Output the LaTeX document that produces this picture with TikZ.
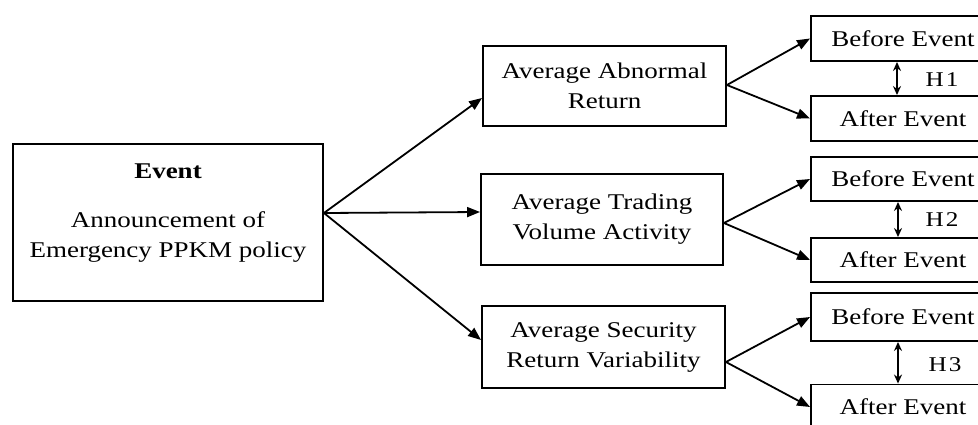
\documentclass[tikz,border=0pt]{standalone}
\usepackage{fontspec}
\setmainfont[FakeStretch=1.2]{Liberation Serif}
\usetikzlibrary{arrows.meta}
\begin{document}
\begin{tikzpicture}[x=1pt,y=-1pt,
  box/.style={draw, line width=1.9pt, inner sep=0pt, align=center, font=\fontsize{22.5}{30}\selectfont},
  txt/.style={inner sep=0pt, align=center, font=\fontsize{22.5}{30}\selectfont},
  rbox/.style={box, minimum width=184pt},
  arr/.style={line width=1.8pt, -{Triangle[length=13pt,width=10pt]}},
  dbl/.style={line width=1.8pt, {Stealth[length=9pt,width=8pt]}-{Stealth[length=9pt,width=8pt]}},
  hlab/.style={inner sep=0pt, font=\fontsize{21}{24}\selectfont}]
\useasboundingbox (0,0) rectangle (978,424);
% left event box
\node[box, minimum width=310pt, minimum height=157pt] (ev) at (168,222.5) {};
\node[txt] (evt) at (168,213) {\textbf{Event}\\[19pt]Announcement of\\Emergency PPKM policy};
% middle boxes
\node[box, minimum width=243pt, minimum height=80pt] (aa) at (604.5,86) {Average Abnormal\\Return};
\node[box, minimum width=242pt, minimum height=91pt] (tv) at (602,219.5) {Average Trading\\Volume Activity};
\node[box, minimum width=243pt, minimum height=82pt] (sr) at (603.5,347) {Average Security\\Return Variability};
% right boxes
\node[rbox, minimum height=45pt] (b1) at (903,38.5) {Before Event};
\node[rbox, minimum height=45pt] (a1) at (903,118.5) {After Event};
\node[rbox, minimum height=44pt] (b2) at (903,179) {Before Event};
\node[rbox, minimum height=44pt] (a2) at (903,260) {After Event};
\node[rbox, minimum height=48pt] (b3) at (903,317) {Before Event};
\node[rbox, minimum height=45pt] (a3) at (903,407) {After Event};
% connectors from event
\coordinate (j) at ([yshift=9.5pt]ev.east);
\draw[arr] (j) -- ([yshift=-12pt]aa.west);
\draw[arr] (j) -- ([yshift=7.5pt]tv.west);
\draw[arr] (j) -- ([yshift=7pt]sr.west);
% connectors to before/after
\draw[arr] ([yshift=1pt]aa.east) -- (b1.west);
\draw[arr] ([yshift=1pt]aa.east) -- (a1.west);
\draw[arr] ([yshift=-3.5pt]tv.east) -- (b2.west);
\draw[arr] ([yshift=-3.5pt]tv.east) -- (a2.west);
\draw[arr] ([yshift=-15pt]sr.east) -- (b3.west);
\draw[arr] ([yshift=-15pt]sr.east) -- (a3.west);
% hypotheses
\draw[dbl] ([xshift=-6pt]b1.south) -- ([xshift=-6pt]a1.north);
\draw[dbl] ([xshift=-5pt]b2.south) -- ([xshift=-5pt]a2.north);
\draw[dbl] ([xshift=-5pt]b3.south) -- ([xshift=-5pt]a3.north);
\node[hlab] (h1) at (942,80) {H\kern2pt 1};
\node[hlab] (h2) at (942,220) {H\kern2pt 2};
\node[hlab] (h3) at (945,365) {H\kern2pt 3};
\end{tikzpicture}
\end{document}
